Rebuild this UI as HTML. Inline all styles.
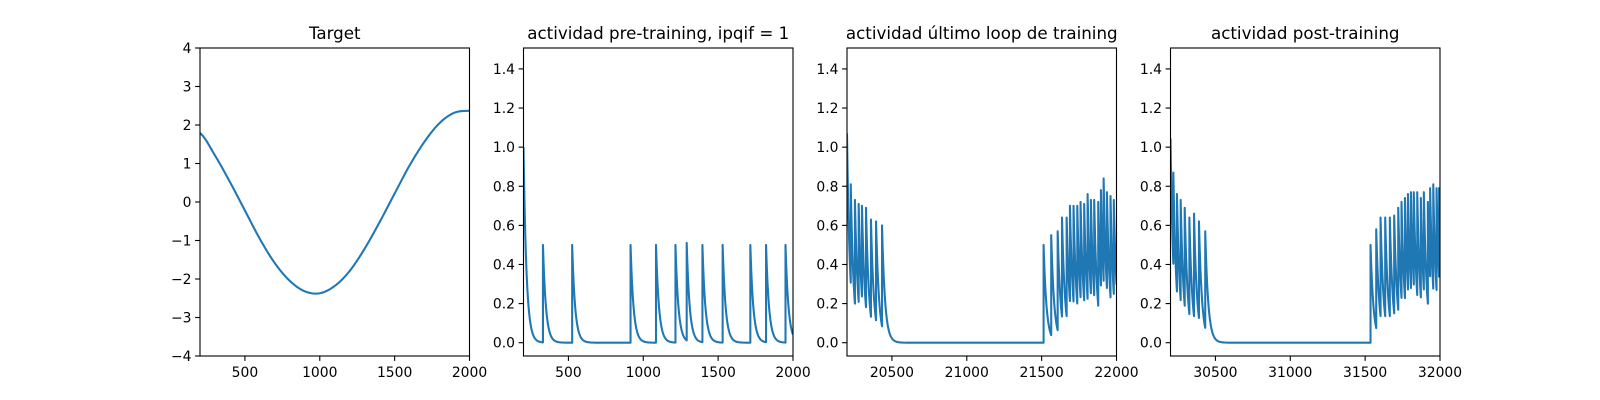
<!DOCTYPE html>
<html><head><meta charset="utf-8">
<style>
html,body{margin:0;padding:0;background:#fff;}
svg{display:block;font-family:"DejaVu Sans","Liberation Sans",sans-serif;}
</style></head>
<body>
<svg id="fig" width="1600" height="400" viewBox="0 0 1600 400" xmlns="http://www.w3.org/2000/svg">
<rect x="0" y="0" width="1600" height="400" fill="#fff"/>
</svg>
<script>
// ---- Data ----
const targetT = [200,300,400,500,600,700,800,900,1000,1100,1200,1300,1400,1500,1600,1700,1800,1900,2000];
const targetV = [1.79,1.21,0.52,-0.22,-0.96,-1.59,-2.05,-2.32,-2.37,-2.18,-1.79,-1.21,-0.52,0.22,0.95,1.57,2.05,2.32,2.37];

const preSpikeT = [200,330,525,915,1085,1215,1290,1395,1530,1715,1820,1950];
const preSpikeV = [1.0,0.5,0.5,0.5,0.5,0.5,0.51,0.5,0.5,0.5,0.5,0.5];

const lastSpikeT = [20200,20225,20253,20278,20300,20327,20360,20394,20434,
  21513,21564,21607,21636,21667,21689,21713,21738,21760,21784,21807,21829,21851,21878,21896,21914,21936,21960,21982];
const lastSpikeV = [1.07,0.81,0.73,0.71,0.70,0.69,0.63,0.62,0.60,
  0.50,0.55,0.57,0.64,0.64,0.70,0.70,0.70,0.72,0.71,0.76,0.73,0.73,0.72,0.78,0.84,0.77,0.75,0.73];

const postSpikeT = [30200,30219,30243,30268,30295,30326,30357,30390,30432,
  31536,31574,31603,31634,31665,31694,31721,31743,31766,31786,31806,31825,31848,31872,31892,31919,31934,31955,31977,31994];
const postSpikeV = [1.045,0.87,0.76,0.73,0.69,0.64,0.66,0.62,0.57,
  0.50,0.58,0.64,0.64,0.64,0.65,0.69,0.72,0.74,0.76,0.77,0.77,0.77,0.74,0.77,0.72,0.79,0.81,0.79,0.79];

const decayTau = 20;

const titles = ["Target","actividad pre-training, ipqif = 1","actividad último loop de training","actividad post-training"];
const xTicks1 = [500,1000,1500,2000];
const xTicks2 = [500,1000,1500,2000];
const xTicks3 = [20500,21000,21500,22000];
const xTicks4 = [30500,31000,31500,32000];
const yTicksTarget = [-4,-3,-2,-1,0,1,2,3,4];
const yTicksAct = [0,0.2,0.4,0.6,0.8,1.0,1.2,1.4];

// ---- Layout ----
const NS = "http://www.w3.org/2000/svg";
const svg = document.getElementById('fig');
const axLefts = [200,523.5,847,1170.5];
const axW = 269.5, axTop = 48, axBottom = 356;
const C = "#1f77b4";

function mk(tag, attrs, parent){
  const e = document.createElementNS(NS, tag);
  for (const k in attrs) e.setAttribute(k, attrs[k]);
  (parent||svg).appendChild(e);
  return e;
}

function spikeTrace(times, peaks, xmax){
  const pts = [];
  for (let i=0;i<times.length;i++){
    const t0 = times[i], p = peaks[i];
    const t1 = i+1<times.length ? times[i+1] : xmax;
    for (let t=t0; t<=t1; t+=1){
      pts.push([t, p*Math.exp(-(t-t0)/decayTau)]);
    }
  }
  return pts;
}

function panel(idx, xmin, xmax, ymin, ymax, xt, yt, yfmt, pts, name){
  const L = axLefts[idx], R = L+axW;
  const g = mk('g', {});
  
  
  const sx = v => L + (v-xmin)/(xmax-xmin)*axW;
  const sy = v => axBottom - (v-ymin)/(ymax-ymin)*(axBottom-axTop);
  const cid = 'clip'+idx;
  const cp = mk('clipPath', {id:cid}, g);
  mk('rect', {x:L, y:axTop, width:axW, height:axBottom-axTop}, cp);
  let d = '';
  pts.forEach((p,i)=>{ d += (i?'L':'M') + sx(p[0]).toFixed(2) + ',' + sy(p[1]).toFixed(2); });
  const line = mk('path', {d:d, fill:'none', stroke:C, 'stroke-width':2.08, 'stroke-linejoin':'round', 'clip-path':'url(#'+cid+')'}, g);
  
  
  const fr = mk('rect', {x:L, y:axTop, width:axW, height:axBottom-axTop, fill:'none', stroke:'#000', 'stroke-width':1.1}, g);
  
  
  xt.forEach(v=>{
    const x = sx(v);
    mk('line', {x1:x, x2:x, y1:axBottom, y2:axBottom+4.9, stroke:'#000', 'stroke-width':1.1}, g);
    const t = mk('text', {x:x, y:axBottom+21, 'text-anchor':'middle', 'font-size':13.9, fill:'#000'}, g);
    t.textContent = String(v);
    
    
  });
  yt.forEach(v=>{
    const y = sy(v);
    mk('line', {x1:L-4.9, x2:L, y1:y, y2:y, stroke:'#000', 'stroke-width':1.1}, g);
    const t = mk('text', {x:L-8.5, y:y+5, 'text-anchor':'end', 'font-size':13.9, fill:'#000'}, g);
    t.textContent = yfmt(v);
    
    
  });
  const tt = mk('text', {x:L+axW/2, y:axTop-9, 'text-anchor':'middle', 'font-size':16.7, fill:'#000'}, g);
  tt.textContent = titles[idx];
  
  
}

// smooth target curve via Catmull-Rom sampling
function smoothPts(ts, vs){
  const out = [];
  for (let i=0;i<ts.length-1;i++){
    const p0 = vs[Math.max(0,i-1)], p1 = vs[i], p2 = vs[i+1], p3 = vs[Math.min(vs.length-1,i+2)];
    for (let k=0;k<10;k++){
      const u = k/10;
      const v = 0.5*((2*p1)+(-p0+p2)*u+(2*p0-5*p1+4*p2-p3)*u*u+(-p0+3*p1-3*p2+p3)*u*u*u);
      out.push([ts[i]+(ts[i+1]-ts[i])*u, v]);
    }
  }
  out.push([ts[ts.length-1], vs[vs.length-1]]);
  return out;
}

const fmtInt = v => v<0 ? '\u2212'+Math.abs(v) : String(v);
const fmt1 = v => v.toFixed(1);
const ymin = -0.068, ymax = 1.507;

panel(0, 200, 2000, -4, 4, xTicks1, yTicksTarget, fmtInt, smoothPts(targetT, targetV), 'target');
panel(1, 200, 2000, ymin, ymax, xTicks2, yTicksAct, fmt1, spikeTrace(preSpikeT, preSpikeV, 2000), 'pre-training');
panel(2, 20200, 22000, ymin, ymax, xTicks3, yTicksAct, fmt1, spikeTrace(lastSpikeT, lastSpikeV, 22000), 'last-loop');
panel(3, 30200, 32000, ymin, ymax, xTicks4, yTicksAct, fmt1, spikeTrace(postSpikeT, postSpikeV, 32000), 'post-training');
</script>
</body></html>
